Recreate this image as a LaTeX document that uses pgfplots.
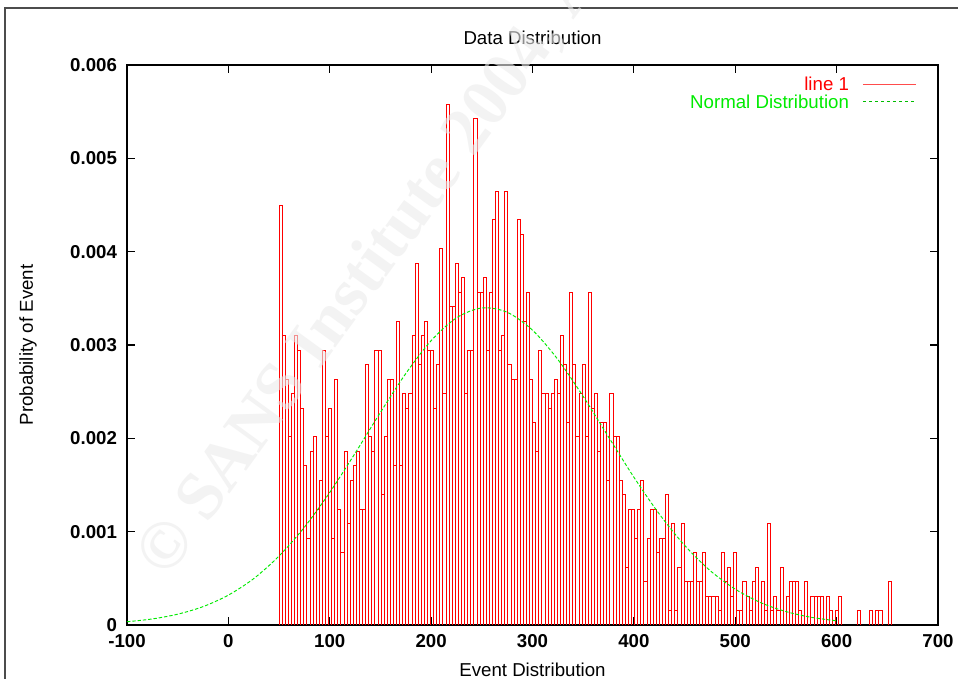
\documentclass[border=0pt]{standalone}
\usepackage{pgfplots}
\pgfplotsset{compat=1.18}
\usepackage{fontspec}
\setmainfont{Liberation Sans}
\newfontfamily\wmfont{Liberation Serif}
\definecolor{gpgreen}{rgb}{0,0.92,0}
\begin{document}
\begin{tikzpicture}[x=0.75pt,y=0.75pt]
\useasboundingbox (0,0) rectangle (958,679);
\fill[white] (0,0) rectangle (958,679);
\draw[black!70, line width=1.1pt] (5,0) -- (5,671) -- (958,671);
\begin{axis}[
  at={(95.25pt,40.5pt)}, anchor=south west,
  scale only axis, width=608.25pt, height=420pt,
  xmin=-100, xmax=700, ymin=0, ymax=0.006,
  xtick={-100,0,100,200,300,400,500,600,700},
  xticklabels={-100,0,100,200,300,400,500,600,700},
  ytick={0,0.001,0.002,0.003,0.004,0.005,0.006},
  yticklabels={0,0.001,0.002,0.003,0.004,0.005,0.006},
  scaled y ticks=false,
  tick align=inside, major tick length=6pt,
  tick style={black, line width=0.8pt},
  axis line style={black, line width=1pt},
  ticklabel style={font=\bfseries\fontsize{14}{16}\selectfont},
  xticklabel style={yshift=-3.5pt},
  yticklabel style={xshift=-4pt},
  title={Data Distribution},
  title style={font=\fontsize{14}{16}\selectfont, at={(axis description cs:0.5,1.034)}, anchor=center},
  xlabel={Event Distribution},
  xlabel style={font=\fontsize{14}{16}\selectfont, at={(axis description cs:0.5,-0.0804)}, anchor=center},
  ylabel={Probability of Event},
  ylabel style={font=\fontsize{14}{16}\selectfont, at={(axis description cs:-0.122,0.5)}, anchor=center},
  legend cell align=right,
  legend plot pos=right,
  legend style={draw=none, fill=none, at={(axis description cs:0.979,0.985)}, anchor=north east,
    font=\fontsize{14}{14}\selectfont, row sep=1pt, column sep=9pt,
    nodes={inner sep=1pt, text height=10pt, text depth=0pt}},
]
\addplot[ybar interval, draw=red, fill=none, line width=0.65pt,
  legend image code/.code={\draw[red!70, line width=0.8pt] (0pt,0pt) -- (40pt,0pt);}]
coordinates {
(50,0.004495) (53.05,0.0031) (56.1,0.002635) (59.15,0.002015) (62.2,0.00248)
(65.25,0.0031) (68.3,0.002945) (71.35,0.002325) (74.4,0.001705) (77.45,0.00093)
(80.5,0.00186) (83.55,0.002015) (86.6,0.00124) (89.65,0.00155) (92.7,0.002945)
(95.75,0.002015) (98.8,0.002325) (101.85,0.00093) (104.9,0.002635) (107.95,0.00124)
(111,0.000775) (114.05,0.00186) (117.1,0.001085) (120.15,0.00155) (123.2,0.001705)
(126.25,0.00186) (129.3,0.00124) (132.35,0.00124) (135.4,0.00279) (138.45,0.002015)
(141.5,0.00186) (144.55,0.002945) (147.6,0.002945) (150.65,0.001395) (153.7,0.002015)
(156.75,0.002635) (159.8,0.002635) (162.85,0.001705) (165.9,0.003255) (168.95,0.001705)
(172,0.00248) (175.05,0.002325) (178.1,0.00248) (181.15,0.0031) (184.2,0.003875)
(187.25,0.00279) (190.3,0.0031) (193.35,0.003255) (196.4,0.002945) (199.45,0.002945)
(202.5,0.002325) (205.55,0.00279) (208.6,0.00403) (211.65,0.00248) (214.7,0.00558)
(217.75,0.00341) (220.8,0.00341) (223.85,0.003875) (226.9,0.003565) (229.95,0.00372)
(233,0.00248) (236.05,0.002945) (239.1,0.002945) (242.15,0.005425) (245.2,0.003565)
(248.25,0.003565) (251.3,0.00372) (254.35,0.002945) (257.4,0.003565) (260.45,0.00434)
(263.5,0.00465) (266.55,0.002945) (269.6,0.0031) (272.65,0.00465) (275.7,0.00279)
(278.75,0.002635) (281.8,0.002635) (284.85,0.00434) (287.9,0.004185) (290.95,0.003255)
(294,0.003565) (297.05,0.002635) (300.1,0.00217) (303.15,0.00186) (306.2,0.002945)
(309.25,0.00248) (312.3,0.00248) (315.35,0.002325) (318.4,0.00248) (321.45,0.002635)
(324.5,0.00248) (327.55,0.0031) (330.6,0.00279) (333.65,0.00217) (336.7,0.003565)
(339.75,0.00279) (342.8,0.002015) (345.85,0.00248) (348.9,0.00279) (351.95,0.002015)
(355,0.003565) (358.05,0.002325) (361.1,0.00248) (364.15,0.00186) (367.2,0.00217)
(370.25,0.00217) (373.3,0.00155) (376.35,0.00248) (379.4,0.002015) (382.45,0.002015)
(385.5,0.00155) (388.55,0.001395) (391.6,0.00062) (394.65,0.00124) (397.7,0.00124)
(400.75,0.00093) (403.8,0.00124) (406.85,0.00155) (409.9,0.000465) (412.95,0.00093)
(416,0.00124) (419.05,0.00124) (422.1,0.000775) (425.15,0.00093) (428.2,0.00093)
(431.25,0.001395) (434.3,0.000155) (437.35,0.001085) (440.4,0.000155) (443.45,0.00062)
(446.5,0.001085) (449.55,0.000465) (452.6,0.000465) (455.65,0.000465) (458.7,0.000775)
(461.75,0.000465) (464.8,0.000465) (467.85,0.000775) (470.9,0.00031) (473.95,0.00031)
(477,0.00031) (480.05,0.00031) (483.1,0.000155) (486.15,0.000775) (489.2,0.000465)
(492.25,0.00062) (495.3,0.00031) (498.35,0.000775) (501.4,0.000155) (504.45,0.000155)
(507.5,0.000465) (510.55,0.00031) (513.6,0.000155) (516.65,0.000465) (519.7,0.00062)
(522.75,0) (525.8,0.000465) (528.85,0.000155) (531.9,0.001085) (534.95,0.000155)
(538,0.00031) (541.05,0.000155) (544.1,0.00062) (547.15,0) (550.2,0.00031)
(553.25,0.000465) (556.3,0.000465) (559.35,0.000465) (562.4,0.000155) (565.45,0)
(568.5,0.000465) (571.55,0) (574.6,0.00031) (577.65,0.00031) (580.7,0.00031)
(583.75,0.00031) (586.8,0) (589.85,0.00031) (592.9,0.000155) (595.95,0)
(599,0.000155) (602.05,0.00031) (605.1,0) (608.15,0) (611.2,0)
(614.25,0) (617.3,0) (620.35,0.000155) (623.4,0) (626.45,0)
(629.5,0) (632.55,0.000155) (635.6,0) (638.65,0.000155) (641.7,0.000155)
(644.75,0) (647.8,0) (650.85,0.000465) (653.9,0)
};
\addlegendentry{\textcolor{red}{line 1}}
\addplot[gpgreen, line width=0.7pt, dash pattern=on 2.5pt off 1.5pt, smooth,
  legend image code/.code={\draw[gpgreen!80!black, line width=0.6pt, dash pattern=on 2.5pt off 2pt] (0pt,0pt) -- (40pt,0pt);}]
coordinates {
(-100,0.0000348) (-75,0.0000650) (-50,0.0001157) (-25,0.0001968) (0,0.000320)
(25,0.000497) (50,0.000739) (75,0.001048) (100,0.001420) (125,0.001840)
(150,0.002278) (175,0.002694) (200,0.003046) (225,0.003291) (250,0.003397)
(275,0.003351) (300,0.003159) (325,0.002845) (350,0.002449) (375,0.002015)
(400,0.001584) (425,0.001190) (450,0.000854) (475,0.000585) (500,0.000384)
(525,0.000240) (550,0.000144) (575,0.0000823) (600,0.0000450)
};
\addlegendentry{\textcolor{gpgreen}{Normal Distribution}}
\end{axis}
\begin{scope}
\clip (0,0) rectangle (958,679);
\node[anchor=base west, rotate=54, text=black!8, opacity=0.6, inner sep=0pt,
  font=\wmfont\bfseries\fontsize{51}{51}\selectfont] at (167,99)
  {\textcopyright{} SANS Institute 2004, Au};
\end{scope}
\end{tikzpicture}
\end{document}
